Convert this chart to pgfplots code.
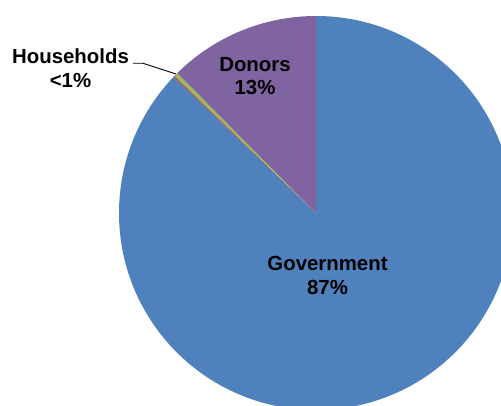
\documentclass[border=0pt]{standalone}
\usepackage{pgfplots}
\usepackage{pgfplotstable}
\usepackage{fontspec}
\setmainfont{Liberation Sans}
\pgfplotsset{compat=1.18}
\definecolor{govblue}{HTML}{4F81BD}
\definecolor{donpurple}{HTML}{8064A2}
\definecolor{hhgreen}{HTML}{9BBB59}
\definecolor{hhred}{HTML}{C0504D}
\pgfplotstableread{
label value
Government 87.15
HouseholdsA 0.12
HouseholdsB 0.30
Donors 12.43
}\piedata
\begin{document}
\begin{tikzpicture}
\useasboundingbox (0,0) rectangle (501pt,405pt);
\pgfplotstablegetelem{0}{value}\of\piedata \pgfmathsetmacro{\vA}{\pgfplotsretval}
\pgfplotstablegetelem{1}{value}\of\piedata \pgfmathsetmacro{\vB}{\pgfplotsretval}
\pgfplotstablegetelem{2}{value}\of\piedata \pgfmathsetmacro{\vC}{\pgfplotsretval}
\pgfplotstablegetelem{3}{value}\of\piedata \pgfmathsetmacro{\vD}{\pgfplotsretval}
\pgfmathsetmacro{\aA}{90}
\pgfmathsetmacro{\aB}{\aA-3.6*\vA}
\pgfmathsetmacro{\aC}{\aB-3.6*\vB}
\pgfmathsetmacro{\aD}{\aC-3.6*\vC}
\pgfmathsetmacro{\aE}{\aD-3.6*\vD}
\begin{axis}[
  at={(0,0)}, anchor=origin,
  x=1pt, y=1pt,
  xmin=0, xmax=501, ymin=0, ymax=405,
  hide axis, clip=false,
]
\def\R{197pt}
\fill[govblue] (axis cs:316,192) -- ++(\aA:\R) arc[start angle=\aA, end angle=\aB, radius=\R] -- cycle;
\fill[hhred] (axis cs:316,192) -- ++(\aB:\R) arc[start angle=\aB, end angle=\aC, radius=\R] -- cycle;
\fill[hhgreen] (axis cs:316,192) -- ++(\aC:\R) arc[start angle=\aC, end angle=\aD, radius=\R] -- cycle;
\fill[donpurple] (axis cs:316,192) -- ++(\aD:\R) arc[start angle=\aD, end angle=\aE, radius=\R] -- cycle;
\draw[black, line width=0.9pt] (axis cs:133,341.7) -- (axis cs:143,341.7) -- (axis cs:176,331);
\tikzset{lbl/.style={font=\fontsize{20.4}{23.5}\selectfont\bfseries, anchor=base, inner sep=0pt}}
\node[lbl] at (axis cs:70.5,341.7) {Households};
\node[lbl] at (axis cs:70.5,317.7) {<1\%};
\node[lbl] at (axis cs:255,333.3) {Donors};
\node[lbl] at (axis cs:255,310) {13\%};
\node[lbl] at (axis cs:327.5,134.3) {Government};
\node[lbl] at (axis cs:327.5,111) {87\%};
\end{axis}
\end{tikzpicture}
\end{document}
